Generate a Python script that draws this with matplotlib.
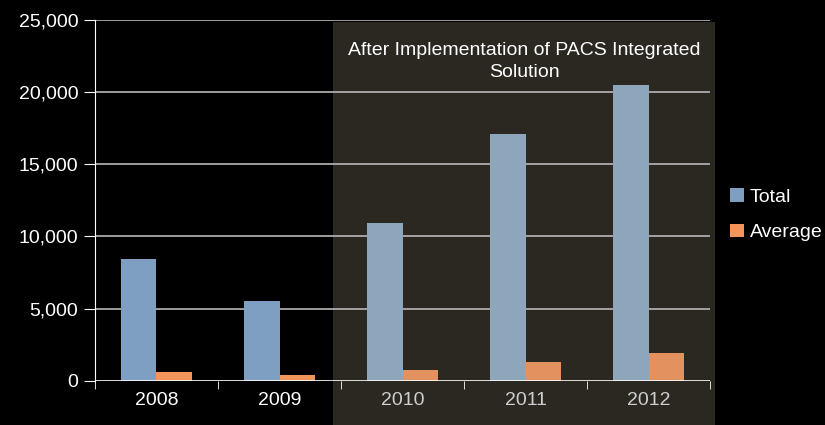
import matplotlib.pyplot as plt
import matplotlib.transforms as mtransforms
from matplotlib.patches import Rectangle
import numpy as np

years = ["2008", "2009", "2010", "2011", "2012"]
total = [8450, 5560, 10960, 17100, 20500]
average = [620, 400, 760, 1300, 1960]
panel_title = "After Implementation of PACS Integrated\nSolution"

plt.rcParams['font.family'] = ['Liberation Sans Narrow', 'Liberation Sans', 'DejaVu Sans']

fig = plt.figure(figsize=(8.25, 4.25), dpi=100, facecolor='black')
ax = fig.add_axes([0.115, 0.104, 0.746, 0.849], facecolor='black')

x = np.arange(len(years))
w = 0.29
blue = ['#7f9fc2', '#7f9fc2', '#8ea6bb', '#8ea6bb', '#8ea6bb']
orange = ['#f3955a', '#f3955a', '#e3915e', '#e3915e', '#e3915e']
ax.bar(x - w / 2, total, w, color=blue, zorder=3, label='Total')
ax.bar(x + w / 2, average, w, color=orange, zorder=3, label='Average')

# shaded "after" panel, runs down past the axis to the bottom of the figure
trans = mtransforms.blended_transform_factory(ax.transData, ax.transAxes)
ax.add_patch(Rectangle((1.435, -0.2), 3.105, 1.195, transform=trans,
                       facecolor='#2b2721', edgecolor='none', zorder=0.5, clip_on=False))
ax.text(2.99, 0.885, panel_title, transform=trans, ha='center', va='center',
        color='white', fontsize=14, linespacing=1.4, zorder=4)

for yv in range(5000, 25001, 5000):
    ax.axhline(yv, color='#b8b8b8', lw=1.2, zorder=1)
ax.axhline(0, color='white', lw=1.2, zorder=4)

ax.set_xlim(-0.5, 4.5)
ax.set_ylim(0, 25000)
ax.set_yticks(range(0, 25001, 5000))
ax.set_yticklabels(["{:,}".format(v) for v in range(0, 25001, 5000)])
ax.set_xticks(x)
ax.set_xticklabels(years)
ax.set_xticks(np.arange(-0.5, 5, 1), minor=True)
ax.tick_params(axis='x', which='major', length=0, colors='white', labelsize=14, pad=8)
ax.tick_params(axis='x', which='minor', length=6, color='white', direction='out')
ax.tick_params(axis='y', length=8, color='white', colors='white', labelsize=14, pad=4)
for lbl in ax.get_xticklabels()[2:]:
    lbl.set_color('#cfcfcf')

for s in ['top', 'right', 'bottom']:
    ax.spines[s].set_visible(False)
ax.spines['left'].set_color('white')

leg = ax.legend(loc='center left', bbox_to_anchor=(1.01, 0.46), frameon=False,
                fontsize=14, labelcolor='white', handlelength=0.7, handleheight=0.7,
                handletextpad=0.3, labelspacing=0.9, borderaxespad=0.3)

fig.savefig('out.png', dpi=100, facecolor='black')
